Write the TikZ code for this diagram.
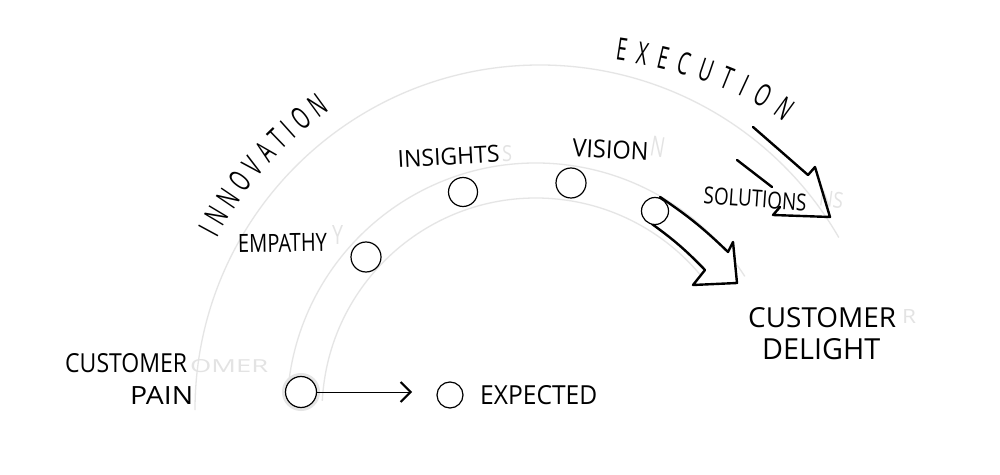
\documentclass[tikz,border=0pt]{standalone}
\usepackage{fontspec}
\usepackage{graphicx}
\usetikzlibrary{arrows.meta,decorations.text}
\newfontfamily\hand{Open Sans}
\newfontfamily\handarc[FakeStretch=0.6]{Open Sans}
\newcommand\handbig{\handarc\fontsize{31}{31}\selectfont}
\newcommand\hw[3]{\resizebox{#1pt}{#2pt}{\hand #3}}
\begin{document}
\begin{tikzpicture}[x=1pt,y=1pt,
  guide/.style={draw=gray!20, line width=1.3pt},
  dot/.style={circle, draw=black, line width=1.2pt, fill=white, minimum size=#1, inner sep=0pt},
  lbl/.style={anchor=south west, inner sep=0pt, text=black},
  ghost/.style={anchor=south west, inner sep=0pt, text=gray!22},
  bigarrow/.style={draw=black, line width=2.4pt, line join=round, line cap=round, fill=white},
  arrowline/.style={draw=black, line width=2.4pt, line join=round, line cap=round},
]
\useasboundingbox (0,0) rectangle (1000,474);
\fill[white] (0,0) rectangle (1000,474);
\coordinate (C) at (540,64);
\coordinate (B) at (536,62);
% guide arcs
\draw[guide] (C) ++(180:345) arc[start angle=180, end angle=30, radius=345];
\draw[guide] (B) ++(177:249) arc[start angle=177, end angle=33, radius=249];
\draw[guide] (B) ++(177:214) arc[start angle=177, end angle=37, radius=214];
% faint ghost marks of an earlier layer
\node[ghost] (g-cust) at (190,101) {\hw{78}{13}{OMER}};
\node[ghost] (g-cdr) at (902,150) {\hw{14}{14}{R}};
\node[ghost] (g-emp) at (332,229) {\hw{11}{19}{Y}};
\node[ghost] (g-ins) at (502,312) {\hw{10}{16}{S}};
\node[ghost, rotate=-10] (g-vis) at (649,318) {\hw{14}{20}{N}};
\node[ghost, rotate=-8] (g-sol) at (818,268) {\hw{24}{16}{NS}};
% arc titles
\path (C) ++(152:366) coordinate (i0);
\path[decorate, decoration={text along path, text={|\handbig|INNOVATION}, text align={fit to path}}] (i0) arc[start angle=152, end angle=125, radius=366];
\coordinate (e0) at (615,414);
\coordinate (e1) at (784,352);
\path[decorate, decoration={text along path, text={|\handbig|EXECUTION}, text align={fit to path}}] (e0) .. controls (672,406) and (744,384) .. (e1);
% big arrow from last dot
\draw[bigarrow] (660,277) to[bend left=5] (728,222) -- (733,232) -- (737,191) -- (693,189) -- (705,204) to[bend right=5] (652,250);
% execution arrow
\draw[arrowline] (753,347) -- (808,299) -- (815,307) -- (830,257) -- (773,259) -- (780,267);
\draw[arrowline] (737,314) -- (772,287);
% dots
\draw[gray!20, line width=4pt] (301,82) circle (17);
\node[dot=31pt] (pain) at (301,82) {};
\node[dot=26pt] (exp) at (450,79) {};
\node[dot=30pt] (emp) at (366,217) {};
\node[dot=29pt] (ins) at (463,282) {};
\node[dot=30pt] (vis) at (571,291) {};
\node[dot=27pt] (sol) at (655,263) {};
\coordinate (pe) at (412,82);
\draw[line width=1pt, -{Straight Barb[length=10pt,width=20pt,line width=2pt]}] (pain.east) -- (pe);
% labels
\node[lbl] (l-cust) at (65,101) {\hw{122}{19}{CUSTOMER}};
\node[lbl] (l-pain) at (130,69) {\hw{63}{18}{PAIN}};
\node[lbl] (l-exp) at (480,69) {\hw{117}{19}{EXPECTED}};
\node[lbl, rotate=1] (l-emp) at (238,221) {\hw{89}{18}{EMPATHY}};
\node[lbl, rotate=3] (l-ins) at (398,306) {\hw{102}{17}{INSIGHTS}};
\node[lbl, rotate=-3] (l-vis) at (572,317) {\hw{76}{18}{VISION}};
\node[lbl, rotate=-4] (l-sol) at (703,270) {\hw{103}{17}{SOLUTIONS}};
\node[lbl] (l-cd1) at (748,146) {\hw{148}{20}{CUSTOMER}};
\node[lbl] (l-cd2) at (762,114) {\hw{118}{21}{DELIGHT}};
\end{tikzpicture}
\end{document}
